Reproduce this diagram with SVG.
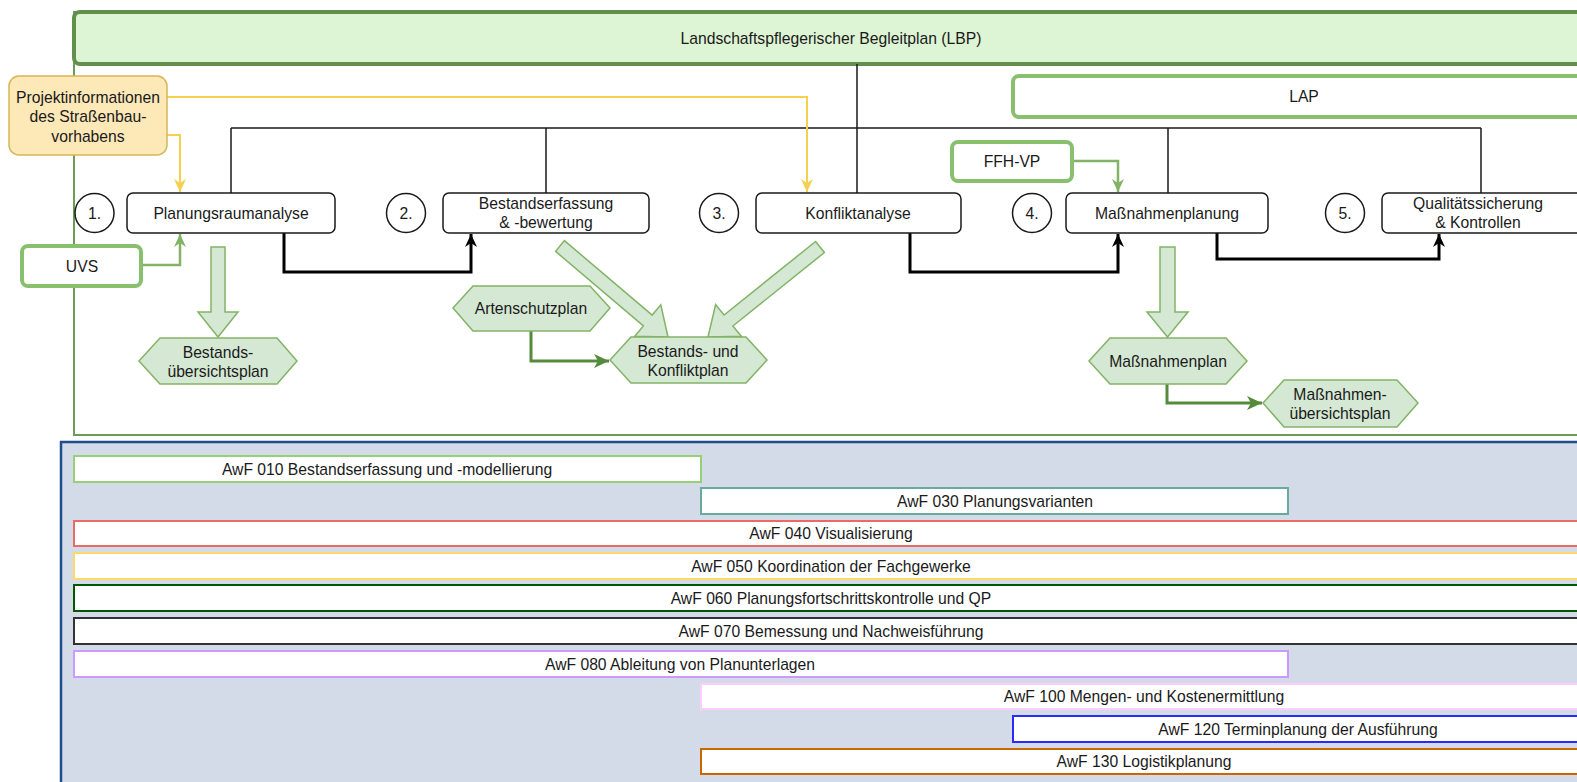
<svg xmlns="http://www.w3.org/2000/svg" width="1577" height="782" viewBox="0 0 1577 782">
<defs>
<style>
text{font-family:"Liberation Sans",Arial,sans-serif;font-size:15.7px;fill:#1a1a1a;text-anchor:middle;dominant-baseline:central}
.box{fill:#fff;stroke:#1a1a1a;stroke-width:1.5}
.circ{fill:#fff;stroke:#1a1a1a;stroke-width:1.5}
.lg{fill:#fff;stroke:#88c070;stroke-width:4}
.hex{fill:#d5e8d4;stroke:#82b366;stroke-width:1.5}
.blk{fill:#d5e8d4;stroke:#82b366;stroke-width:1.5}
.bar{fill:#fff;stroke-width:2}
.tree{fill:none;stroke:#1a1a1a;stroke-width:1.5}
.thick{fill:none;stroke:#000;stroke-width:3}
.yel{fill:none;stroke:#f7d04e;stroke-width:2}
.grn{fill:none;stroke:#82b366;stroke-width:2.5}
.dgrn{fill:none;stroke:#568a3c;stroke-width:3}
</style>
<marker id="ab" viewBox="0 0 14 14" refX="13" refY="7" markerWidth="14" markerHeight="14" orient="auto" markerUnits="userSpaceOnUse"><path d="M0,1 L13,7 L0,13 L4,7 z" fill="#000"/></marker>
<marker id="ay" viewBox="0 0 14 14" refX="13" refY="7" markerWidth="14" markerHeight="14" orient="auto" markerUnits="userSpaceOnUse"><path d="M0,1 L13,7 L0,13 L4,7 z" fill="#f7d04e"/></marker>
<marker id="ag" viewBox="0 0 14 14" refX="13" refY="7" markerWidth="14" markerHeight="14" orient="auto" markerUnits="userSpaceOnUse"><path d="M0,1 L13,7 L0,13 L4,7 z" fill="#82b366"/></marker>
<marker id="ad" viewBox="0 0 16 16" refX="15" refY="8" markerWidth="16" markerHeight="16" orient="auto" markerUnits="userSpaceOnUse"><path d="M0,1 L15,8 L0,15 L4,8 z" fill="#568a3c"/></marker>
</defs>

<!-- containers -->
<g id="lbp-frame">
<rect x="74" y="12" width="1530" height="423" fill="#fff" stroke="#6d9b58" stroke-width="2"/>
</g>
<g id="lbp">
<rect x="74" y="12" width="1530" height="52" rx="6" fill="#ddf4d5" stroke="#628f4c" stroke-width="4"/>
<text x="831" y="38">Landschaftspflegerischer Begleitplan (LBP)</text>
</g>
<g id="awf-container">
<rect x="61" y="442" width="1540" height="360" fill="#d3dae8" stroke="#1f4e8c" stroke-width="2.5"/>
</g>

<!-- bars -->
<g id="awf010"><rect class="bar" x="74" y="456" width="627" height="26" stroke="#97d077"/><text x="387" y="469">AwF 010 Bestandserfassung und -modellierung</text></g>
<g id="awf030"><rect class="bar" x="701" y="488" width="587" height="26" stroke="#67ab9f"/><text x="995" y="501">AwF 030 Planungsvarianten</text></g>
<g id="awf040"><rect class="bar" x="74" y="521" width="1515" height="25" stroke="#ea6b66"/><text x="831" y="533.5">AwF 040 Visualisierung</text></g>
<g id="awf050"><rect class="bar" x="74" y="553" width="1515" height="26" stroke="#ffd966"/><text x="831" y="566">AwF 050 Koordination der Fachgewerke</text></g>
<g id="awf060"><rect class="bar" x="74" y="585" width="1515" height="26" stroke="#005700" stroke-width="2.5"/><text x="831" y="598">AwF 060 Planungsfortschrittskontrolle und QP</text></g>
<g id="awf070"><rect class="bar" x="74" y="618" width="1515" height="26" stroke="#333"/><text x="831" y="631">AwF 070 Bemessung und Nachweisführung</text></g>
<g id="awf080"><rect class="bar" x="74" y="651" width="1214" height="26" stroke="#cc99ff"/><text x="680" y="664">AwF 080 Ableitung von Planunterlagen</text></g>
<g id="awf100"><rect class="bar" x="701" y="684" width="888" height="25" stroke="#ffccff"/><text x="1144" y="696.5">AwF 100 Mengen- und Kostenermittlung</text></g>
<g id="awf120"><rect class="bar" x="1013" y="716" width="576" height="26" stroke="#2a2aff"/><text x="1298" y="729">AwF 120 Terminplanung der Ausführung</text></g>
<g id="awf130"><rect class="bar" x="701" y="749" width="888" height="25" stroke="#cc6600"/><text x="1144" y="761.5">AwF 130 Logistikplanung</text></g>

<!-- connectors -->
<g id="connectors">
<path class="tree" d="M857,64 V193 M231,128 H1481 M231,128 V193 M546,128 V193 M1168,128 V193 M1481,128 V193"/>
<path class="thick" d="M284,233 V272 H471 V234" marker-end="url(#ab)"/>
<path class="thick" d="M910,233 V272 H1118 V234" marker-end="url(#ab)"/>
<path class="thick" d="M1217,233 V259 H1439 V234" marker-end="url(#ab)"/>
<path class="yel" d="M167,97 H807 V192" marker-end="url(#ay)"/>
<path class="yel" d="M167,135 H180 V192" marker-end="url(#ay)"/>
<path class="grn" d="M142,265 H180 V234" marker-end="url(#ag)"/>
<path class="grn" d="M1073,161 H1118 V192" marker-end="url(#ag)"/>
<path class="dgrn" d="M531,331 V361 H609" marker-end="url(#ad)"/>
<path class="dgrn" stroke-width="2" d="M1167,384 V403 H1262" marker-end="url(#ad)"/>
<polygon class="blk" points="211,247 225,247 225,312 238,312 218,337 198,312 211,312"/>
<polygon class="blk" points="564.4,240.6 652.2,315.1 660.8,304.8 668,337 634.8,336.2 643.4,325.9 555.6,251.4"/>
<polygon class="blk" points="815.6,241.5 724.1,315 715.6,304.7 708,337 741.4,336.3 732.9,326 824.4,252.5"/>
<polygon class="blk" points="1160,247 1175,247 1175,312 1188,312 1167.5,337 1147,312 1160,312"/>
</g>

<!-- external inputs -->
<g id="projekt">
<rect x="9" y="76" width="158" height="79" rx="10" fill="#fde8b8" stroke="#d6b656" stroke-width="1.5"/>
<text x="88" y="97">Projektinformationen</text>
<text x="88" y="116.5">des Straßenbau-</text>
<text x="88" y="136">vorhabens</text>
</g>
<g id="lap"><rect class="lg" x="1013" y="76" width="590" height="41" rx="6"/><text x="1304" y="96">LAP</text></g>
<g id="uvs"><rect class="lg" x="22" y="246" width="119" height="40" rx="6"/><text x="82" y="266">UVS</text></g>
<g id="ffhvp"><rect class="lg" x="952" y="142" width="120" height="39" rx="6"/><text x="1012" y="161">FFH-VP</text></g>

<!-- steps -->
<g id="step1"><circle class="circ" cx="94.5" cy="213" r="19.5"/><text x="94.5" y="213">1.</text></g>
<g id="planungsraum"><rect class="box" x="127" y="193" width="208" height="40" rx="6"/><text x="231" y="213">Planungsraumanalyse</text></g>
<g id="step2"><circle class="circ" cx="406" cy="213" r="19.5"/><text x="406" y="213">2.</text></g>
<g id="bestand"><rect class="box" x="443" y="193" width="206" height="40" rx="6"/><text x="546" y="203">Bestandserfassung</text><text x="546" y="222">&amp; -bewertung</text></g>
<g id="step3"><circle class="circ" cx="719" cy="213" r="19.5"/><text x="719" y="213">3.</text></g>
<g id="konflikt"><rect class="box" x="756" y="193" width="205" height="40" rx="6"/><text x="858" y="213">Konfliktanalyse</text></g>
<g id="step4"><circle class="circ" cx="1032" cy="213" r="19.5"/><text x="1032" y="213">4.</text></g>
<g id="massnahmen"><rect class="box" x="1066" y="193" width="202" height="40" rx="6"/><text x="1167" y="213">Maßnahmenplanung</text></g>
<g id="step5"><circle class="circ" cx="1345" cy="213" r="19.5"/><text x="1345" y="213">5.</text></g>
<g id="qualitaet"><rect class="box" x="1382" y="193" width="220" height="40" rx="6"/><text x="1478" y="203">Qualitätssicherung</text><text x="1478" y="222">&amp; Kontrollen</text></g>

<!-- outputs -->
<g id="bestandsuebersicht"><polygon class="hex" points="139,361 160,338 277,338 297,361 277,384 160,384"/><text x="218" y="352">Bestands-</text><text x="218" y="371">übersichtsplan</text></g>
<g id="artenschutz"><polygon class="hex" points="453,308 473,286 590,286 610,308 590,331 473,331"/><text x="531" y="308">Artenschutzplan</text></g>
<g id="bestandkonflikt"><polygon class="hex" points="610,360 631,337 746,337 767,360 746,383 631,383"/><text x="688" y="351">Bestands- und</text><text x="688" y="370">Konfliktplan</text></g>
<g id="massnahmenplan"><polygon class="hex" points="1089,361 1110,338 1226,338 1247,361 1226,384 1110,384"/><text x="1168" y="361">Maßnahmenplan</text></g>
<g id="massnahmenuebersicht"><polygon class="hex" points="1263,403 1284,380 1397,380 1418,403 1397,427 1284,427"/><text x="1340" y="394">Maßnahmen-</text><text x="1340" y="413">übersichtsplan</text></g>
</svg>
